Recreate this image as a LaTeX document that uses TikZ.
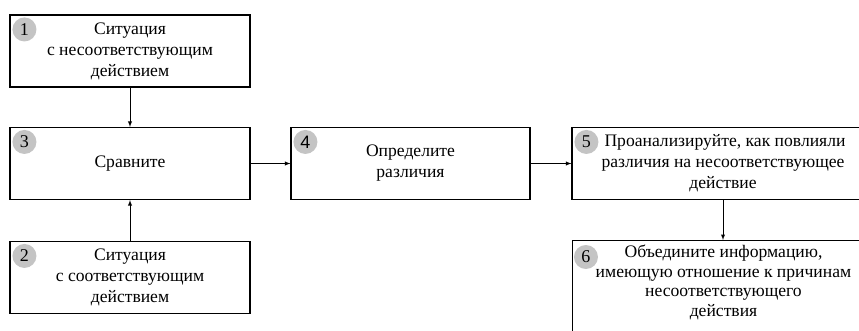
\documentclass[tikz,border=0pt]{standalone}
\usepackage{fontspec}
\setmainfont{Liberation Serif}
\newfontfamily\digitfont{Liberation Sans}
\usetikzlibrary{positioning}
\definecolor{badgegray}{RGB}{196,196,196}

\begin{document}
\begin{tikzpicture}[x=1pt,y=-1pt,>=latex,
    box/.style={draw,line width=1.1pt,minimum width=240pt,minimum height=72pt,
      align=center,inner sep=3pt,font=\rmfamily\fontsize{17.6}{21}\selectfont},
    widebox/.style={box,minimum width=302pt},
    badge/.style={circle,fill=badgegray,minimum size=24pt,inner sep=0pt,
      font=\rmfamily\fontsize{18}{18}\selectfont},
    link/.style={->,line width=0.9pt}]
   \useasboundingbox (0,0) rectangle (859,331);
   \clip (0,0) rectangle (859,331);

   % left column
   \node[box] (box1) at (130,51) {Ситуация\\с несоответствующим\\действием};
   \node[box] (box3) at (130,163.5) {Сравните};
   \node[box] (box2) at (130,277.5) {Ситуация\\с соответствующим\\действием};

   % middle and right
   \node[box,minimum width=239pt] (box4) at (410.5,163.5) {Определите\\различия};
   \node[widebox] (box5) at (723,163.5) {\hspace*{4pt}Проанализируйте, как повлияли\\различия на несоответствующее\\действие};
   \node[widebox,anchor=north,text depth=110pt,inner ysep=4.5pt,
     font=\rmfamily\fontsize{17.6}{19.5}\selectfont]
     (box6) at (723.5,240) {Объедините информацию,\\имеющую отношение к причинам\\несоответствующего\\действия};

   % numbers
   \node[badge,xshift=15pt,yshift=-15pt] (n1) at (box1.north west) {1};
   \node[badge,xshift=15pt,yshift=-15pt] (n2) at (box2.north west) {2};
   \node[badge,xshift=15pt,yshift=-15pt] (n3) at (box3.north west) {3};
   \node[badge,xshift=15pt,yshift=-15pt] (n4) at (box4.north west) {\digitfont 4};
   \node[badge,xshift=15pt,yshift=-15pt] (n5) at (box5.north west) {5};
   \node[badge,xshift=14pt,yshift=-17pt] (n6) at (box6.north west) {6};

   \draw[link] (box1) -- (box3);
   \draw[link] (box2) -- (box3);
   \draw[link] (box3) -- (box4);
   \draw[link] (box4) -- (box5);
   \draw[link] (box5) -- (box6.north -| box5.south);
\end{tikzpicture}
\end{document}
